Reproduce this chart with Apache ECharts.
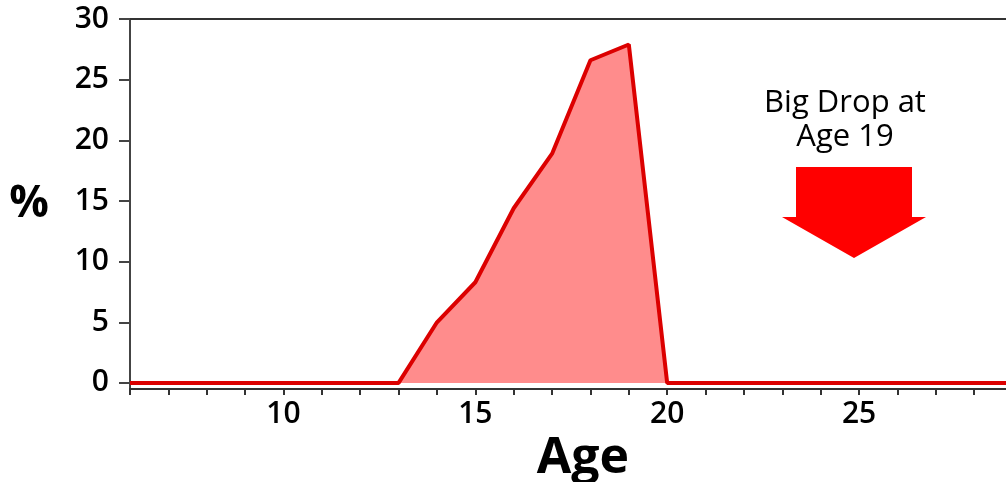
<!DOCTYPE html>
<html>
<head>
<meta charset="utf-8">
<script src="https://cdn.jsdelivr.net/npm/echarts@6/dist/echarts.min.js"></script>
<style>
  html, body { margin: 0; padding: 0; background: #fff; }
  #chart { width: 1006px; height: 482px; }
</style>
</head>
<body>
<div id="chart"></div>
<script>
// ages and share (%)
const ages = [6, 7, 8, 9, 10, 11, 12, 13, 14, 15, 16, 17, 18, 19, 20, 21, 22, 23, 24, 25, 26, 27, 28, 29]
const percent = [0, 0, 0, 0, 0, 0, 0, 0, 5.0, 8.3, 14.4, 18.9, 26.6, 27.9, 0, 0, 0, 0, 0, 0, 0, 0, 0, 0]
const xTickValues = [6, 7, 8, 9, 10, 11, 12, 13, 14, 15, 16, 17, 18, 19, 20, 21, 22, 23, 24, 25, 26, 27, 28]
const xLabelValues = [10, 15, 20, 25]
const yTickValues = [0, 5, 10, 15, 20, 25, 30]
const noteText = 'Big Drop at\nAge 19'

const FONT = '"Open Sans", "Noto Sans", sans-serif'

const chart = echarts.init(document.getElementById('chart'))

const option = {
  animation: false,
  grid: { left: 130, top: 19, right: 0, bottom: 93, outerBoundsMode: 'none' },
  xAxis: [
    {
      type: 'value',
      min: 6,
      max: 28.83,
      name: 'Age',
      nameLocation: 'middle',
      nameGap: 40,
      nameTextStyle: { fontFamily: FONT, fontSize: 50, fontWeight: 'bold', color: '#000', padding: [0, 0, 0, 30] },
      axisLine: { show: true, onZero: false, lineStyle: { color: '#333', width: 2 } },
      axisTick: { show: true, length: 6, customValues: xTickValues, lineStyle: { color: '#333', width: 2 } },
      axisLabel: { customValues: xLabelValues, margin: 10, fontFamily: FONT, fontSize: 30, fontWeight: 600, color: '#000' },
      splitLine: { show: false },
    },
    {
      type: 'value',
      position: 'top',
      min: 6,
      max: 28.83,
      axisLine: { show: true, onZero: false, lineStyle: { color: '#333', width: 2 } },
      axisTick: { show: false },
      axisLabel: { show: false },
      splitLine: { show: false },
    },
  ],
  yAxis: {
    type: 'value',
    min: -0.5,
    max: 30,
    name: '%',
    nameLocation: 'middle',
    nameRotate: 0,
    nameGap: 81,
    nameTextStyle: { fontFamily: FONT, fontSize: 44, fontWeight: 'bold', color: '#000' },
    axisLine: { show: true, lineStyle: { color: '#444', width: 2 } },
    axisTick: { show: true, length: 11, customValues: yTickValues, lineStyle: { color: '#444', width: 2 } },
    axisLabel: { customValues: yTickValues, margin: 21, fontFamily: FONT, fontSize: 30, fontWeight: 600, color: '#000' },
    splitLine: { show: false },
  },
  series: [
    {
      type: 'line',
      xAxisIndex: 0,
      data: ages.map((a, i) => [a, percent[i]]),
      symbol: 'none',
      clip: true,
      lineStyle: { color: '#dc0000', width: 4 },
      areaStyle: { color: '#ff8c8c', opacity: 1, origin: 0 },
    },
  ],
  graphic: [
    {
      type: 'text',
      x: 845,
      y: 86,
      style: {
        text: noteText,
        font: '31px ' + FONT,
        fill: '#000',
        align: 'center',
        verticalAlign: 'top',
        lineHeight: 34,
      },
      z: 10,
    },
    {
      type: 'polygon',
      shape: {
        points: [[796, 167], [912, 167], [912, 217], [926, 217], [854, 258], [782, 217], [796, 217]],
      },
      style: { fill: '#ff0000' },
      z: 10,
    },
  ],
}

chart.setOption(option)
</script>
</body>
</html>
